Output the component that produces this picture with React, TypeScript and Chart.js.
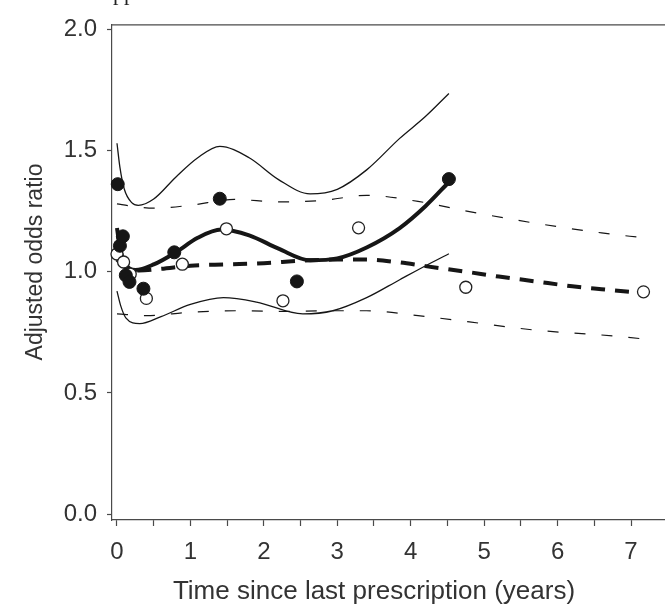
import React, { useEffect, useRef } from "react";
import { Chart, registerables } from "chart.js";

Chart.register(...registerables);

// ---- Axis ticks ----
const xTickValues = [0, 0.5, 1, 1.5, 2, 2.5, 3, 3.5, 4, 4.5, 5, 5.5, 6, 6.5, 7];
const yTickValues = [0, 0.5, 1.0, 1.5, 2.0];
const X_MIN = -0.068;
const X_MAX = 7.463;
const Y_MIN = -0.024;
const Y_MAX = 2.02;

// ---- Observed points ----
const filledX = [0.01, 0.04, 0.08, 0.12, 0.17, 0.36, 0.78, 1.40, 2.45, 4.52];
const filledY = [1.361, 1.107, 1.146, 0.985, 0.958, 0.93, 1.08, 1.301, 0.96, 1.382];

const openX = [0.0, 0.09, 0.18, 0.40, 0.89, 1.49, 2.26, 3.29, 4.75, 7.17];
const openY = [1.073, 1.04, 0.99, 0.89, 1.031, 1.177, 0.880, 1.181, 0.936, 0.917];

// ---- Fitted curve (filled group) and its CI ----
const fitFilledX = [0, 0.04, 0.1, 0.25, 0.5, 0.8, 1.1, 1.42, 1.8, 2.2, 2.63, 3.0, 3.4, 3.85, 4.2, 4.52];
const fitFilledY = [1.18, 1.10, 1.04, 1.007, 1.03, 1.08, 1.14, 1.174, 1.15, 1.095, 1.047, 1.055, 1.10, 1.18, 1.27, 1.37];

const ciFilledUpperX = [0, 0.04, 0.1, 0.2, 0.29, 0.5, 0.8, 1.1, 1.4, 1.8, 2.2, 2.63, 3.0, 3.4, 3.85, 4.2, 4.52];
const ciFilledUpperY = [1.53, 1.43, 1.34, 1.285, 1.274, 1.30, 1.39, 1.47, 1.517, 1.47, 1.38, 1.321, 1.34, 1.42, 1.55, 1.64, 1.735];

const ciFilledLowerX = [0, 0.05, 0.12, 0.31, 0.6, 1.0, 1.45, 1.9, 2.53, 2.94, 3.4, 3.85, 4.3, 4.52];
const ciFilledLowerY = [0.92, 0.86, 0.81, 0.786, 0.815, 0.865, 0.893, 0.875, 0.826, 0.839, 0.893, 0.967, 1.04, 1.074];

// ---- Fitted curve (open group) and its CI ----
const fitOpenX = [0, 0.1, 0.3, 0.6, 1.0, 1.5, 2.0, 2.5, 3.0, 3.4, 3.8, 4.2, 4.75, 5.2, 5.7, 6.2, 6.6, 7.17];
const fitOpenY = [1.05, 1.02, 1.005, 1.012, 1.025, 1.03, 1.035, 1.045, 1.05, 1.05, 1.04, 1.023, 1.0, 0.98, 0.96, 0.94, 0.928, 0.912];

const ciOpenUpperX = [0, 0.2, 0.5, 1.0, 1.6, 2.2, 2.8, 3.4, 4.1, 4.8, 5.7, 6.6, 7.17];
const ciOpenUpperY = [1.28, 1.27, 1.262, 1.274, 1.298, 1.288, 1.294, 1.315, 1.29, 1.248, 1.20, 1.16, 1.14];

const ciOpenLowerX = [0, 0.4, 1.0, 1.7, 2.3, 2.8, 3.4, 4.1, 4.8, 5.7, 6.6, 7.17];
const ciOpenLowerY = [0.826, 0.819, 0.833, 0.839, 0.836, 0.839, 0.839, 0.819, 0.793, 0.759, 0.739, 0.723];

// ---- Text ----
const xTitle = "Time since last prescription (years)";
const yTitle = "Adjusted odds ratio";
const topText = "Approximate";

const SANS = "'Liberation Sans', Arial, sans-serif";
const TEXT = "#333333";
const AXIS = "#4a4a4a";
const INK = "#161616";

const zip = (xs: number[], ys: number[]) => xs.map((x, i) => ({ x, y: ys[i] }));

const lineDs = (xs: number[], ys: number[], width: number, dash: number[]) => ({
  type: "line" as const,
  data: zip(xs, ys),
  borderColor: INK,
  borderWidth: width,
  borderDash: dash,
  pointRadius: 0,
  fill: false,
  cubicInterpolationMode: "monotone" as const,
});

const decorPlugin = {
  id: "decor",
  afterDraw(chart: any) {
    const { ctx, chartArea, scales } = chart;
    ctx.save();
    // top frame line
    ctx.strokeStyle = AXIS;
    ctx.lineWidth = 1.2;
    ctx.beginPath();
    ctx.moveTo(chartArea.left, chartArea.top + 0.5);
    ctx.lineTo(chartArea.right, chartArea.top + 0.5);
    ctx.stroke();
    // x title
    ctx.fillStyle = TEXT;
    ctx.font = `26px ${SANS}`;
    ctx.textAlign = "center";
    ctx.textBaseline = "alphabetic";
    ctx.fillText(xTitle, scales.x.getPixelForValue(3.5), 599);
    // y title
    ctx.save();
    ctx.translate(42, 262);
    ctx.rotate(-Math.PI / 2);
    ctx.font = `23px ${SANS}`;
    ctx.fillText(yTitle, 0, 0);
    ctx.restore();
    // cut-off heading at the very top
    ctx.fillStyle = "#222";
    ctx.font = "22px 'Liberation Serif', 'Times New Roman', serif";
    ctx.textAlign = "left";
    ctx.fillText(topText, 97, 0);
    ctx.restore();
  },
};

export default function App() {
  const ref = useRef<HTMLCanvasElement>(null);
  useEffect(() => {
    document.body.style.margin = "0";
    document.body.style.overflow = "hidden";
    const chart = new Chart(ref.current as HTMLCanvasElement, {
      type: "line",
      data: {
        datasets: [
          {
            type: "scatter",
            data: zip(filledX, filledY),
            backgroundColor: INK,
            borderColor: INK,
            borderWidth: 1,
            pointRadius: 6.5,
            showLine: false,
            clip: false,
          } as any,
          {
            type: "scatter",
            data: zip(openX, openY),
            backgroundColor: "#ffffff",
            borderColor: "#222",
            borderWidth: 1.3,
            pointRadius: 6,
            showLine: false,
            clip: false,
          } as any,
          lineDs(fitFilledX, fitFilledY, 4, []),
          lineDs(fitOpenX, fitOpenY, 4, [14, 10]),
          lineDs(ciFilledUpperX, ciFilledUpperY, 1.3, []),
          lineDs(ciFilledLowerX, ciFilledLowerY, 1.3, []),
          lineDs(ciOpenUpperX, ciOpenUpperY, 1.2, [11, 16]),
          lineDs(ciOpenLowerX, ciOpenLowerY, 1.2, [11, 16]),
        ] as any,
      },
      options: {
        responsive: false,
        animation: false,
        devicePixelRatio: 1,
        layout: { padding: { top: 11, left: 0, right: 0, bottom: 0 }, autoPadding: false } as any,
        plugins: {
          legend: { display: false },
          tooltip: { enabled: false },
          title: { display: false },
        },
        scales: {
          x: {
            type: "linear",
            min: X_MIN,
            max: X_MAX,
            afterBuildTicks: (s: any) => {
              s.ticks = xTickValues.map((v) => ({ value: v }));
            },
            afterFit: (s: any) => {
              s.height = 85;
            },
            ticks: {
              autoSkip: false,
              maxRotation: 0,
              padding: 12,
              color: TEXT,
              font: { family: SANS, size: 24 },
              callback: (v: any) => (Number.isInteger(v) ? String(v) : ""),
            },
            grid: { drawOnChartArea: false, drawTicks: true, tickLength: 6, tickColor: AXIS, tickWidth: 1.2 },
            border: { display: true, color: AXIS, width: 1.2 },
          },
          y: {
            type: "linear",
            min: Y_MIN,
            max: Y_MAX,
            afterBuildTicks: (s: any) => {
              s.ticks = yTickValues.map((v) => ({ value: v }));
            },
            afterFit: (s: any) => {
              s.width = 112;
            },
            ticks: {
              autoSkip: false,
              padding: 10,
              color: TEXT,
              font: { family: SANS, size: 24 },
              callback: (v: any) => Number(v).toFixed(1),
            },
            grid: { drawOnChartArea: false, drawTicks: true, tickLength: 5, tickColor: AXIS, tickWidth: 1.2 },
            border: { display: true, color: AXIS, width: 1.2 },
          },
        },
      } as any,
      plugins: [decorPlugin],
    });
    return () => chart.destroy();
  }, []);
  return (
    <div style={{ position: "fixed", left: 0, top: 0 }}>
      <canvas ref={ref} width={665} height={605} style={{ display: "block" }} />
    </div>
  );
}
